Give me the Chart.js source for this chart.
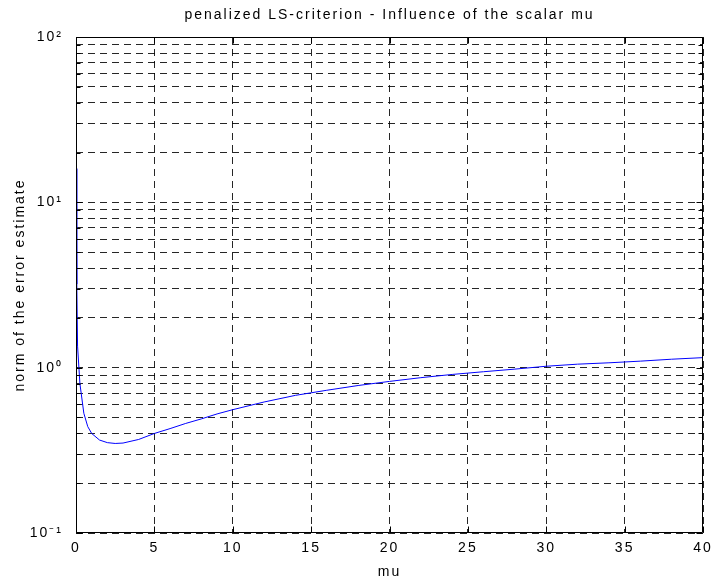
<!DOCTYPE html>
<html>
<head>
<meta charset="utf-8">
<script src="https://cdn.jsdelivr.net/npm/chart.js@4/dist/chart.umd.min.js"></script>
<style>
html,body{margin:0;padding:0;background:#fff;}
#wrap{width:713px;height:581px;}
</style>
</head>
<body>
<div id="wrap"><canvas id="c" width="713" height="581"></canvas></div>
<script>
// ---- data ----
const muValues = [0, 0.05, 0.1, 0.25, 0.5, 0.75, 1, 1.5, 2, 2.5, 3, 4, 5, 6, 7, 8, 9, 10,
  12, 14, 16, 18, 20, 22, 24, 26, 28, 30, 32, 34, 36, 38, 40];
const errorNorm = [16, 3.2, 1.35, 0.8, 0.53, 0.44, 0.40, 0.365, 0.352, 0.348, 0.35, 0.368, 0.40, 0.428, 0.46, 0.49, 0.525, 0.557,
  0.62, 0.68, 0.73, 0.78, 0.826, 0.87, 0.91, 0.945, 0.98, 1.02, 1.05, 1.07, 1.095, 1.125, 1.15];
const xTickValues = [0, 5, 10, 15, 20, 25, 30, 35, 40];
const yDecades = [0.1, 1, 10, 100];
const yDecadeLabels = ['10\u207B\u00B9', '10\u2070', '10\u00B9', '10\u00B2'];
const yMinorFactors = [2, 3, 4, 5, 6, 7, 8, 9];
const chartTitle = 'penalized LS-criterion - Influence of the scalar mu';
const xTitle = 'mu';
const yTitle = 'norm of the error estimate';

// build y tick list (majors + minors)
const yTickValues = [];
yDecades.forEach((d, i) => {
  yTickValues.push(d);
  if (i < yDecades.length - 1) yMinorFactors.forEach(f => yTickValues.push(+(d * f).toPrecision(6)));
});

const LETTER_SPACING = '2px';
const spacingPlugin = {
  id: 'spacing',
  beforeUpdate(chart) { chart.ctx.letterSpacing = LETTER_SPACING; },
  beforeDraw(chart) { chart.ctx.letterSpacing = LETTER_SPACING; }
};

const framePlugin = {
  id: 'frame',
  afterDraw(chart) {
    const {ctx, chartArea, scales} = chart;
    const L = Math.round(chartArea.left) + 0.5, R = Math.round(chartArea.right) - 0.5;
    const T = Math.round(chartArea.top) + 0.5, B = Math.round(chartArea.bottom) - 0.5;
    ctx.save();
    ctx.setLineDash([]);
    ctx.strokeStyle = '#000';
    ctx.lineWidth = 1;
    ctx.beginPath();
    ctx.rect(L, T, R - L, B - T);
    ctx.stroke();
    ctx.beginPath();
    xTickValues.forEach(v => {
      const px = Math.round(scales.x.getPixelForValue(v)) + 0.5;
      ctx.moveTo(px, B); ctx.lineTo(px, B - 6);
      ctx.moveTo(px, T); ctx.lineTo(px, T + 6);
    });
    yTickValues.forEach(v => {
      const py = Math.round(scales.y.getPixelForValue(v)) + 0.5;
      const len = yDecades.includes(v) ? 6 : 4;
      ctx.moveTo(L, py); ctx.lineTo(L + len, py);
      ctx.moveTo(R, py); ctx.lineTo(R - len, py);
    });
    ctx.stroke();
    ctx.restore();
  }
};

Chart.defaults.font.family = "'Liberation Sans', Arial, Helvetica, sans-serif";
Chart.defaults.font.size = 14;
Chart.defaults.color = '#000';

const gridStyle = {
  display: true,
  color: 'rgba(0,0,0,0.85)',
  lineWidth: 1,
  drawTicks: false,
  drawOnChartArea: true
};

new Chart(document.getElementById('c'), {
  type: 'line',
  data: {
    datasets: [{
      data: muValues.map((m, i) => ({x: m, y: errorNorm[i]})),
      borderColor: '#0000ff',
      borderWidth: 1,
      pointRadius: 0,
      tension: 0,
      fill: false
    }]
  },
  options: {
    responsive: false,
    animation: false,
    devicePixelRatio: 1,
    layout: {padding: {top: 0, right: 10, bottom: 0, left: 0}},
    plugins: {
      legend: {display: false},
      tooltip: {enabled: false},
      title: {
        display: true,
        text: chartTitle,
        fullSize: false,
        font: {size: 14, weight: 'normal'},
        color: '#000',
        padding: {top: 6.6, bottom: 13.6}
      }
    },
    scales: {
      x: {
        type: 'linear',
        min: 0, max: 40,
        afterBuildTicks: s => { s.ticks = xTickValues.map(v => ({value: v})); },
        afterFit: s => { s.height = 48; s.paddingLeft = 0; s.paddingRight = 0; },
        grid: gridStyle,
        border: {display: false, dash: [7, 5]},
        ticks: {padding: 6.6, font: {size: 14}, color: '#000', maxRotation: 0, autoSkip: false},
        title: {display: true, text: xTitle, font: {size: 14}, color: '#000', padding: {top: 0, bottom: 0.6}}
      },
      y: {
        type: 'logarithmic',
        min: 0.1, max: 100,
        afterBuildTicks: s => { s.ticks = yTickValues.map(v => ({value: v})); },
        afterFit: s => { s.width = 76; },
        grid: gridStyle,
        border: {display: false, dash: [7, 5]},
        ticks: {
          padding: 13, autoSkip: false, font: {size: 14}, color: '#000',
          callback: v => { const i = yDecades.indexOf(v); return i >= 0 ? yDecadeLabels[i] : ''; }
        },
        title: {display: true, text: yTitle, font: {size: 14}, color: '#000', padding: {top: 11.6, bottom: 0}}
      }
    }
  },
  plugins: [spacingPlugin, framePlugin]
});
</script>
</body>
</html>
